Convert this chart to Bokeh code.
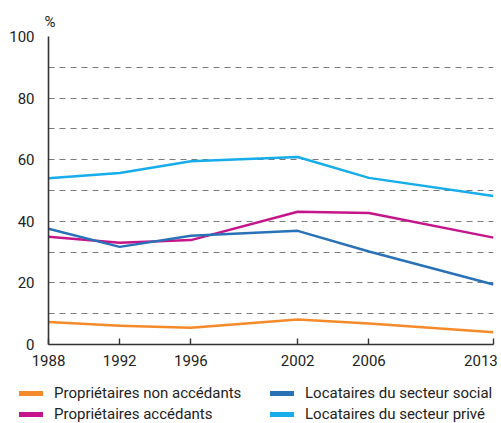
from bokeh.plotting import figure
from bokeh.models import FixedTicker, Legend, LegendItem, Range1d
from bokeh.layouts import column
from bokeh.embed import file_html
from bokeh.resources import INLINE

# ---- data ----
years = [1988, 1992, 1996, 2002, 2006, 2013]
year_labels = ["1988", "1992", "1996", "2002", "2006", "2013"]
prop_non_accedants = [7.3, 6.1, 5.4, 8.1, 6.8, 4.0]
prop_accedants = [35.0, 33.0, 33.9, 43.1, 42.7, 34.7]
loc_social = [37.6, 31.7, 35.3, 36.9, 30.2, 19.5]
loc_prive = [54.0, 55.7, 59.5, 60.9, 54.1, 48.2]
y_ticks = [0, 20, 40, 60, 80, 100]
grid_values = [10, 20, 30, 40, 50, 60, 70, 80, 90, 100]
unit_label = "%"
series_names = [
    "Propriétaires non accédants",
    "Propriétaires accédants",
    "Locataires du secteur social",
    "Locataires du secteur privé",
]
series_values = [prop_non_accedants, prop_accedants, loc_social, loc_prive]
series_colors = ["#f58a2a", "#c4168a", "#2a72b8", "#16adea"]

FONT = "Roboto"
TEXT = "#222222"
NBSP = "\u00a0"

p = figure(
    width=501, height=372,
    x_range=Range1d(years[0], years[-1]),
    y_range=Range1d(y_ticks[0], y_ticks[-1]),
    output_backend="svg", toolbar_location=None,
    min_border_left=48, min_border_right=8,
    min_border_top=36, min_border_bottom=27,
    title=unit_label,
)
p.outline_line_color = None
p.background_fill_color = "white"

# "%" unit above the y axis
p.title.align = "left"
p.title.offset = -4
p.title.standoff = 11
p.title.text_font = FONT
p.title.text_font_size = "15px"
p.title.text_font_style = "normal"
p.title.text_color = TEXT

# grid
p.xgrid.visible = False
p.ygrid.ticker = FixedTicker(ticks=grid_values)
p.ygrid.grid_line_color = "#7a7a7a"
p.ygrid.grid_line_dash = "6 5"
p.ygrid.grid_line_width = 1.2

# y axis
p.yaxis.ticker = FixedTicker(ticks=y_ticks)
p.yaxis.axis_line_color = "#333333"
p.yaxis.axis_line_width = 1.6
p.yaxis.major_tick_line_color = None
p.yaxis.minor_tick_line_color = None
p.yaxis.major_label_standoff = 8
p.yaxis.major_label_text_font = FONT
p.yaxis.major_label_text_font_size = "15px"
p.yaxis.major_label_text_color = TEXT

# x axis
p.xaxis.ticker = FixedTicker(ticks=years)
overrides = {yr: lab for yr, lab in zip(years, year_labels)}
overrides[years[-1]] = year_labels[-1] + NBSP  # keep last label inside the canvas
p.xaxis.major_label_overrides = overrides
p.xaxis.axis_line_color = "#333333"
p.xaxis.axis_line_width = 1.6
p.xaxis.major_tick_in = 6
p.xaxis.major_tick_out = 0
p.xaxis.major_tick_line_color = "#333333"
p.xaxis.major_tick_line_width = 1.4
p.xaxis.minor_tick_line_color = None
p.xaxis.major_label_standoff = 7
p.xaxis.major_label_text_font = FONT
p.xaxis.major_label_text_font_size = "15px"
p.xaxis.major_label_text_color = TEXT

# lines
for vals, col in zip(series_values, series_colors):
    p.line(years, vals, line_color=col, line_width=2.5, line_join="round")

# legend in its own strip below the chart
lg = figure(
    width=501, height=51,
    x_range=Range1d(0, 1), y_range=Range1d(0, 1),
    output_backend="svg", toolbar_location=None,
    min_border=0,
)
if "frame_align" in lg.properties():
    lg.frame_align = False
lg.axis.visible = False
lg.grid.visible = False
lg.outline_line_color = None

items = []
for name, vals, col in zip(series_names, series_values, series_colors):
    # same series, outside this strip's ranges: only its legend swatch shows
    r = lg.line(years, vals, line_color=col, line_width=5, line_cap="round")
    items.append(LegendItem(label=name, renderers=[r]))

legend = Legend(
    items=items, ncols=2, location=(19, 0),
    border_line_color=None, background_fill_alpha=0,
    padding=0, margin=0, spacing=3,
    glyph_width=24, glyph_height=16,
    label_height=16, label_width=213, label_standoff=11,
    label_text_font=FONT, label_text_font_size="15px",
    label_text_color=TEXT,
)
lg.add_layout(legend)

layout = column(p, lg, spacing=0)
open("out.html", "w").write(file_html(layout, INLINE))
